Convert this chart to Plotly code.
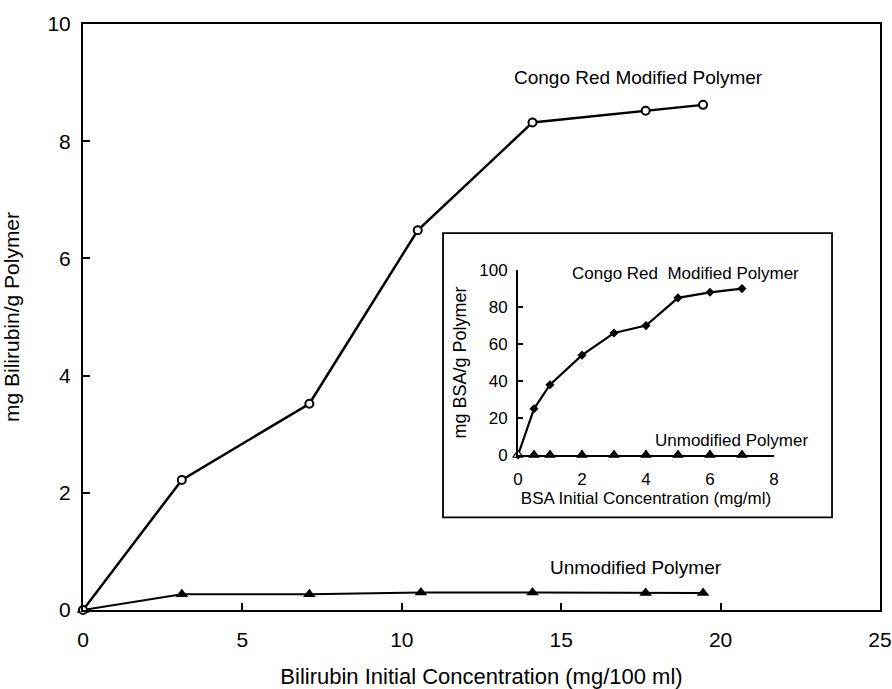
import plotly.graph_objects as go

# Main chart data
main_x_congo = [0, 3.1, 7.1, 10.5, 14.1, 17.65, 19.45]
main_y_congo = [0, 2.22, 3.52, 6.48, 8.32, 8.52, 8.62]
main_x_unmod = [0, 3.1, 7.1, 10.6, 14.1, 17.65, 19.45]
main_y_unmod = [0, 0.27, 0.27, 0.3, 0.3, 0.29, 0.29]

# Inset data
inset_x_congo = [0, 0.5, 1, 2, 3, 4, 5, 6, 7]
inset_y_congo = [0, 25, 38, 54, 66, 70, 85, 88, 90]
inset_x_unmod = [0, 0.5, 1, 2, 3, 4, 5, 6, 7]
inset_y_unmod = [0, 0, 0, 0, 0, 0, 0, 0, 0]

main_xticks = [0, 5, 10, 15, 20, 25]
main_yticks = [0, 2, 4, 6, 8, 10]
inset_xticks = [0, 2, 4, 6, 8]
inset_yticks = [0, 20, 40, 60, 80, 100]

FONT = "Liberation Sans, Arial, sans-serif"

fig = go.Figure()

fig.add_trace(go.Scatter(
    x=main_x_unmod, y=main_y_unmod, mode="lines+markers",
    line=dict(color="black", width=2),
    marker=dict(symbol="triangle-up", size=11, color="black"),
    cliponaxis=False, showlegend=False, xaxis="x", yaxis="y"))
fig.add_trace(go.Scatter(
    x=main_x_congo, y=main_y_congo, mode="lines+markers",
    line=dict(color="black", width=2.5),
    marker=dict(symbol="circle", size=8, color="white", line=dict(color="black", width=2)),
    cliponaxis=False, showlegend=False, xaxis="x", yaxis="y"))

fig.add_trace(go.Scatter(
    x=inset_x_congo, y=inset_y_congo, mode="lines+markers",
    line=dict(color="black", width=2.2),
    marker=dict(symbol="diamond", size=7, color="black"),
    cliponaxis=False, showlegend=False, xaxis="x2", yaxis="y2"))
fig.add_trace(go.Scatter(
    x=inset_x_unmod, y=inset_y_unmod, mode="markers",
    marker=dict(symbol=["triangle-up"] * len(inset_x_unmod), size=9,
                color=["white"] + ["black"] * (len(inset_x_unmod) - 1),
                line=dict(color="black", width=1.2)),
    cliponaxis=False, showlegend=False, xaxis="x2", yaxis="y2"))

axis_common = dict(showgrid=False, zeroline=False, showline=True, linecolor="black",
                   ticks="inside", tickcolor="black", automargin=False)

fig.update_layout(
    width=892, height=689,
    margin=dict(l=83, r=12, t=24, b=79),
    paper_bgcolor="white", plot_bgcolor="white",
    font=dict(family=FONT, color="black", size=19),
    xaxis=dict(**axis_common, range=[0, 25], tickvals=main_xticks, linewidth=2,
               mirror=True, ticklen=7, tickwidth=1.5, ticklabelstandoff=10,
               tickfont=dict(size=21),
               title=dict(text="Bilirubin Initial Concentration (mg/100 ml)",
                          font=dict(size=22), standoff=26)),
    yaxis=dict(**axis_common, range=[0, 10], tickvals=main_yticks, linewidth=2,
               mirror=True, ticklen=7, tickwidth=1.5, ticklabelstandoff=6,
               tickfont=dict(size=21),
               title=dict(text="mg Bilirubin/g Polymer", font=dict(size=21), standoff=26)),
    xaxis2=dict(**axis_common, range=[0, 8], tickvals=inset_xticks, linewidth=2,
                ticklen=5, tickwidth=1.5, domain=[0.5458, 0.867], anchor="y2",
                tickfont=dict(size=17), ticklabelstandoff=8,
                title=dict(text="BSA Initial Concentration (mg/ml)",
                           font=dict(size=17), standoff=4)),
    yaxis2=dict(**axis_common, range=[0, 100], tickvals=inset_yticks, linewidth=2,
                ticklen=5, tickwidth=1.5, domain=[0.2645, 0.580], anchor="x2",
                tickfont=dict(size=17), ticklabelstandoff=5,
                title=dict(text="mg BSA/g Polymer", font=dict(size=18), standoff=8)),
    shapes=[dict(type="rect", xref="paper", yref="paper",
                 x0=0.4517, x1=0.9398, y0=0.158, y1=0.643,
                 line=dict(color="black", width=1.8), layer="below")],
    annotations=[
        dict(text="Congo Red Modified Polymer", x=17.41, y=9.08, xref="x", yref="y",
             showarrow=False, font=dict(size=19)),
        dict(text="Unmodified Polymer", x=17.35, y=0.73, xref="x", yref="y",
             showarrow=False, font=dict(size=19)),
        dict(text="Congo Red\u00a0 Modified Polymer", x=5.22, y=98.4, xref="x2", yref="y2",
             showarrow=False, font=dict(size=17)),
        dict(text="Unmodified Polymer", x=6.66, y=8.1, xref="x2", yref="y2",
             showarrow=False, font=dict(size=17)),
    ],
)

fig.write_html("out.html")
